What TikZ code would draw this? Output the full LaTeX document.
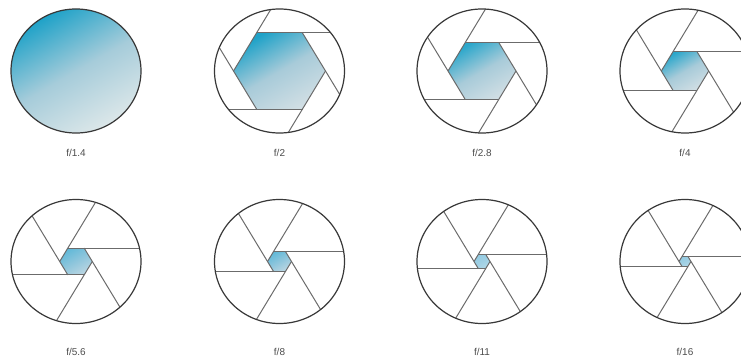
\documentclass[tikz,border=0pt]{standalone}
\usepackage{fontspec}
\setmainfont{Liberation Sans}
\definecolor{teal1}{HTML}{1FA2C8}
\definecolor{teal2}{HTML}{A6CCDA}
\definecolor{teal3}{HTML}{DCE7E9}
\definecolor{teal4}{HTML}{2BA7CB}
\definecolor{teal5}{HTML}{A8CBD9}
\definecolor{teal6}{HTML}{D0DEE4}
\definecolor{sm1}{HTML}{62B9D8}
\definecolor{sm2}{HTML}{8FC6DC}
\definecolor{sm3}{HTML}{BBD6E2}
\definecolor{ti1}{HTML}{93CBE2}
\definecolor{ti2}{HTML}{A0D0E4}
\definecolor{ti3}{HTML}{B0D8E8}
\tikzset{
  rim/.style={draw=black!78,line width=1.2bp},
  blade/.style={draw=black!58,line width=1bp},
  fstop/.style={font=\fontsize{10}{11}\selectfont,text=black!70,inner sep=0pt},
  iris/.style n args={3}{bottom color=#3,top color=#1,middle color=#2,shading angle=30},
}
\begin{document}
\begin{tikzpicture}[x=1bp,y=1bp]
\useasboundingbox (0,0) rectangle (741,356);
\clip (0,0) rectangle (741,356);
% f/1.4: fully open
\begin{scope}[shift={(76,285)},yscale=0.954]
  \shade[iris={teal1}{teal2}{teal3}] (0,0) circle (65);
  \draw[rim] (0,0) circle (65);
\end{scope}
\node[fstop] (f1) at (76,203.5) {f/1.4};
% stopped-down apertures: cx/cy/R/label/colours
\foreach \cx/\cy/\R/\lab/\ca/\cb/\cc/\ly/\nm in {
  279.5/285/46/{f/2}/teal1/teal5/teal6/203.5/f2,
  482/285/34/{f/2.8}/teal4/teal5/teal6/203.5/f3,
  685/285/23.7/{f/4}/teal4/teal5/teal6/203.5/f4,
  76/94.5/16.3/{f/5.6}/sm1/sm2/sm3/4.5/f5,
  279.5/94.5/12/{f/8}/sm1/sm2/sm3/4.5/f6,
  482/94.5/8/{f/11}/ti1/ti2/ti3/4.5/f7,
  685/94.5/6/{f/16}/ti1/ti2/ti3/4.5/f8}{
  \begin{scope}[shift={(\cx,\cy)},yscale=0.954]
    \shade[iris={\ca}{\cb}{\cc}] (0:\R) -- (60:\R) -- (120:\R) -- (180:\R) -- (240:\R) -- (300:\R) -- cycle;
    \pgfmathsetmacro{\dd}{\R*0.866}
    \pgfmathsetmacro{\reach}{sqrt(65*65-\dd*\dd)}
    \foreach \k in {0,...,5}{
      \draw[blade,rotate=-60*\k] (-\R/2,\dd) -- (\reach,\dd);
    }
    \draw[rim] (0,0) circle (65);
  \end{scope}
  \node[fstop] (\nm) at (\cx,\ly) {\lab};
}
\end{tikzpicture}
\end{document}
